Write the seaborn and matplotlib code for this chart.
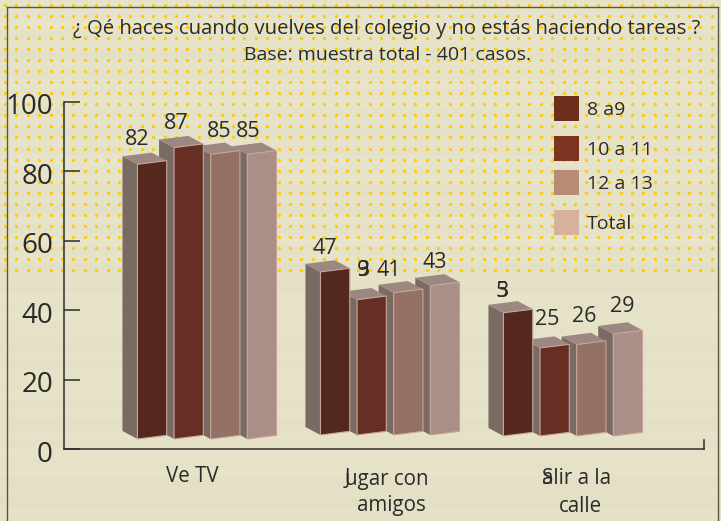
import numpy as np
import pandas as pd
import seaborn as sns
import matplotlib.pyplot as plt
from matplotlib.patches import Polygon, Rectangle
from matplotlib.transforms import Affine2D, ScaledTranslation

# Datos
categorias = ['Ve TV', 'Jugar con amigos', 'Salir a la calle']
edades = ['8 a9', '10 a 11', '12 a 13', 'Total']
valores_8a9 = [82, 47, 35]
valores_10a11 = [87, 39, 25]
valores_12a13 = [85, 41, 26]
valores_total = [85, 43, 29]
ticks_y = [0, 20, 40, 60, 80, 100]

titulo = '¿ Qé haces cuando vuelves del colegio y no estás haciendo tareas ?'
subtitulo = 'Base: muestra total - 401 casos.'

# Colores
colores_frente = ['#55281E', '#672F23', '#957064', '#AB8F87']
colores_leyenda = ['#6B2F1C', '#7B3420', '#B88C75', '#D5B19E']
color_lado = '#7A6A64'
color_tapa = '#9C8880'
color_borde = '#C8A59A'
color_texto = '#2B2A28'
fuente = 'Open Sans'

ANCHO, ALTO = 721, 521
# por grupo: base en pixeles y pixeles por unidad (la perspectiva del dibujo no es pareja)
base_grupo = [439, 435, 436]
escala_grupo = [3.35, 3.47, 3.52]
inclinacion = 0.125
fondo_x, fondo_y = 15, 8
# ajuste de cada etiqueta respecto al centro de la cara frontal
ajuste_etiquetas = [[(-15, -23), (-12, -22), (-6, -21), (-14, -21)],
                    [(-10, -22), (-9, -27), (-20, -20), (-10, -21)],
                    [(-16, -19), (-8, -27), (-7, -26), (-6, -26)]]
traslapadas = [35, 39]

plt.rcParams['font.family'] = [fuente, 'DejaVu Sans']
fig = plt.figure(figsize=(ANCHO / 100, ALTO / 100), dpi=100)


def fx(px):
    return px / ANCHO


def fy(py):
    return 1 - py / ALTO


# Fondo con vetas y puntos
fondo = fig.add_axes([0, 0, 1, 1], zorder=0)
fondo.set_xlim(0, ANCHO)
fondo.set_ylim(ALTO, 0)
fondo.axis('off')
filas = np.arange(ALTO)
vetas = 1.3 * np.sin(filas / 3.1) + 1.1 * np.sin(filas / 11.7) - filas * 0.003
textura = np.zeros((ALTO, 1, 3))
for i, c in enumerate((230, 227, 201)):
    textura[:, 0, i] = (c + vetas) / 255
fondo.imshow(textura, aspect='auto', extent=(0, ANCHO, ALTO, 0))
xs, ys = np.meshgrid(np.arange(5, ANCHO, 11.4), np.arange(5, 272, 11.04))
fondo.scatter(xs.ravel(), ys.ravel(), s=5.5, color='#FFCC00', linewidths=0)
fondo.plot([7, 7], [7, ALTO], color='#5A5646', lw=1)
fondo.plot([7, 718], [7, 7], color='#5A5646', lw=1)
fondo.plot([718, 718], [7, ALTO], color='#5A5646', lw=1)

# Grafica: 0 en y=449 y 100 en y=102, categoria 0 en x=207 con 183 px por categoria
ax = fig.add_axes([fx(64), fy(449), fx(704) - fx(64), fy(102) - fy(449)], zorder=1)
ax.patch.set_alpha(0)

df = pd.DataFrame({
    'categoria': categorias * 4,
    'edad': np.repeat(edades, 3),
    'valor': valores_8a9 + valores_10a11 + valores_12a13 + valores_total,
})
sns.barplot(data=df, x='categoria', y='valor', hue='edad', order=categorias, hue_order=edades,
            palette=colores_frente, saturation=1, width=0.8, gap=0.2, legend=False, ax=ax)
ax.set_xlim(-(207 - 64) / 183, (704 - 207) / 183)
ax.set_ylim(0, 100)
ax.set_yticks(ticks_y)
ax.set_xticks([])
ax.set_xlabel('')
ax.set_ylabel('')
ax.spines[['top', 'right']].set_visible(False)
ax.spines[['left', 'bottom']].set_color('#2E2C28')
ax.spines[['left', 'bottom']].set_linewidth(1.1)
ax.tick_params(axis='y', direction='in', length=11.5, width=1.1, color='#2E2C28',
               labelsize=20, labelcolor=color_texto, pad=8)
baja = ScaledTranslation(0, -2 / 100, fig.dpi_scale_trans)
for etiqueta in ax.get_yticklabels():
    etiqueta.set_transform(etiqueta.get_transform() + baja)
ax.plot([1, 1], [0, 0.025], transform=ax.transAxes, color='#2E2C28', lw=1.1, clip_on=False)

# Volumen de las barras, de derecha a izquierda para que el frente tape al vecino
fig.canvas.draw()
a_pix = ax.transData
for h, barras in enumerate(ax.containers):
    for g, barra in enumerate(barras.patches):
        x0, _ = a_pix.transform((barra.get_x(), 0))
        x1, _ = a_pix.transform((barra.get_x() + barra.get_width(), 0))
        _, y0 = a_pix.transform((0, 0))
        _, ytop = a_pix.transform((0, barra.get_height()))
        base = ALTO - base_grupo[g]
        factor = escala_grupo[g] / 3.47
        # lleva la barra de la escala del eje a la del dibujo, con su inclinacion
        deforma = Affine2D.from_values(1, inclinacion, 0, factor, 0,
                                       base - factor * y0 - inclinacion * x0)
        barra.set_transform(a_pix + deforma)
        barra.set_edgecolor(color_borde)
        barra.set_linewidth(0.8)
        barra.set_zorder(10 - h + 0.5)
        barra.set_clip_on(False)

        abajo_i = deforma.transform((x0, y0))
        arriba_i = deforma.transform((x0, ytop))
        arriba_d = deforma.transform((x1, ytop))
        fondo_vec = np.array([-fondo_x, fondo_y])
        lado = Polygon([abajo_i, arriba_i, arriba_i + fondo_vec, abajo_i + fondo_vec],
                       transform=None, facecolor=color_lado, edgecolor='none', zorder=10 - h)
        tapa = Polygon([arriba_i, arriba_d, arriba_d + fondo_vec, arriba_i + fondo_vec],
                       transform=None, facecolor=color_tapa, edgecolor='none', zorder=10 - h)
        ax.add_artist(lado)
        ax.add_artist(tapa)

        # Etiqueta de valor
        valor = int(barra.get_height())
        cx = (arriba_i[0] + arriba_d[0]) / 2
        cy = ALTO - (arriba_i[1] + arriba_d[1]) / 2
        dx, dy = ajuste_etiquetas[g][h]
        partes = list(str(valor)) if valor in traslapadas else [str(valor)]
        for parte in partes:
            fig.text(fx(cx + dx), fy(cy + dy), parte, ha='center', va='center', fontsize=15.5,
                     color=color_texto, zorder=5)

# Leyenda
filas_leyenda = [96, 136, 170, 210]
for edad, color, py in zip(edades, colores_leyenda, filas_leyenda):
    fig.add_artist(Rectangle((fx(554), fy(py + 25)), 25 / ANCHO, 25 / ALTO, transform=fig.transFigure,
                             facecolor=color, edgecolor='none', zorder=4))
    fig.text(fx(587), fy(py + 14), edad, ha='left', va='center', fontsize=14, color=color_texto, zorder=5)

# Titulos
fig.text(fx(387), fy(29), titulo, ha='center', va='center', fontsize=14.6, color=color_texto, zorder=5)
fig.text(fx(387), fy(55), subtitulo, ha='center', va='center', fontsize=14, color=color_texto, zorder=5)

# Etiquetas de categoria
estilo = dict(va='center', fontsize=14.8, color=color_texto, zorder=5)
fig.text(fx(192), fy(477), 'Ve TV', ha='center', **estilo)
fig.text(fx(345), fy(479), 'J', ha='left', **estilo)
fig.text(fx(345), fy(479), 'ugar con', ha='left', **estilo)
fig.text(fx(391), fy(506), 'amigos', ha='center', **estilo)
fig.text(fx(542), fy(479), 'S', ha='left', **estilo)
fig.text(fx(542), fy(479), 'alir a la', ha='left', **estilo)
fig.text(fx(580), fy(506), 'calle', ha='center', **estilo)

fig.savefig('out.png', dpi=100)
